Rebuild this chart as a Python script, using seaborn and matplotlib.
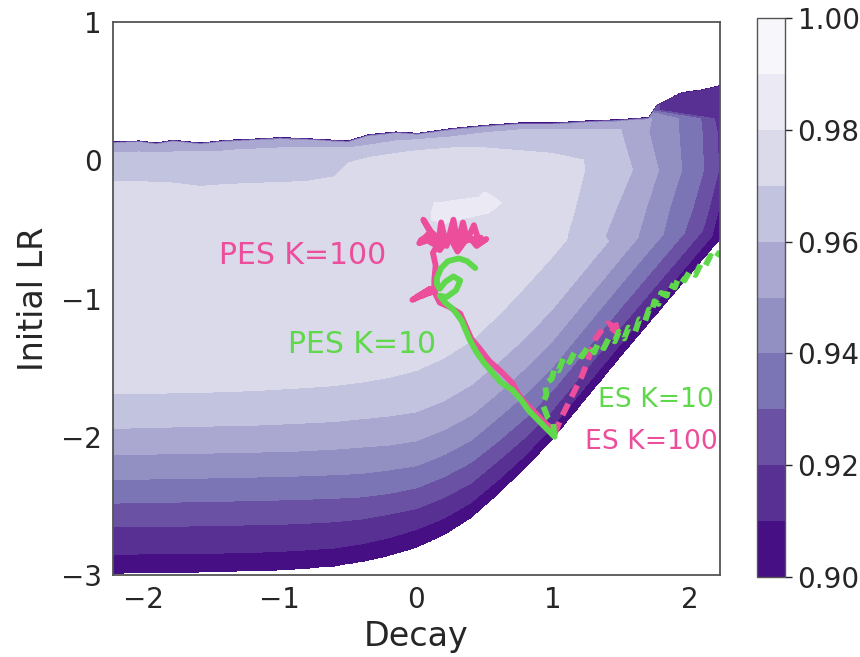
import numpy as np
import matplotlib
matplotlib.use("Agg")
import matplotlib.pyplot as plt
import seaborn as sns

# ---------------- data ----------------
levels = [0.90, 0.91, 0.92, 0.93, 0.94, 0.95, 0.96, 0.97, 0.98, 0.99, 1.00]
cbar_ticks = [0.90, 0.92, 0.94, 0.96, 0.98, 1.00]

# lower / diagonal structure: y where each level is crossed, per column x
bot_x = [-2.22, -1.6, -1.2, -0.9, -0.6, -0.4, -0.2, 0.0, 0.2, 0.4, 0.6, 0.8, 1.0, 1.2, 1.5, 1.8, 2.22]
bot_90 = [-2.99, -2.98, -2.972, -2.96, -2.935, -2.905, -2.86, -2.80, -2.71, -2.585, -2.41, -2.22, -2.01, -1.77, -1.41, -1.06, -0.57]
bot_91 = [-2.85, -2.845, -2.837, -2.825, -2.805, -2.775, -2.73, -2.67, -2.59, -2.475, -2.31, -2.13, -1.92, -1.68, -1.32, -0.97, -0.48]
bot_92 = [-2.65, -2.645, -2.637, -2.63, -2.615, -2.595, -2.56, -2.52, -2.44, -2.335, -2.17, -2.00, -1.80, -1.56, -1.20, -0.85, -0.36]
bot_93 = [-2.48, -2.47, -2.462, -2.455, -2.445, -2.435, -2.41, -2.37, -2.29, -2.185, -2.03, -1.86, -1.66, -1.42, -1.06, -0.71, -0.22]
bot_94 = [-2.31, -2.30, -2.292, -2.285, -2.275, -2.265, -2.24, -2.21, -2.13, -2.025, -1.86, -1.69, -1.49, -1.25, -0.89, -0.54, -0.05]
bot_95 = [-2.13, -2.12, -2.112, -2.105, -2.09, -2.075, -2.06, -2.03, -1.95, -1.845, -1.68, -1.50, -1.30, -1.06, -0.70, -0.35, 0.14]
bot_96 = [-1.94, -1.925, -1.917, -1.905, -1.89, -1.87, -1.85, -1.82, -1.74, -1.625, -1.46, -1.28, -1.07, -0.83, -0.47, -0.12, 0.37]
bot_97 = [-1.69, -1.68, -1.667, -1.65, -1.63, -1.605, -1.57, -1.52, -1.43, -1.305, -1.12, -0.91, -0.69, -0.45, -0.09, 0.26, 0.75]

# upper (diverging) edge: y of crossings per column x
top_x = [-2.22, -2.03, -1.90, -1.78, -1.58, -1.39, -1.25, -1.00, -0.81, -0.60, -0.50, -0.35,
         -0.15, 0.01, 0.26, 0.50, 0.75, 0.99, 1.23, 1.48, 1.70, 1.76, 1.94, 2.09, 2.22]
top_90 = [0.132, 0.140, 0.125, 0.145, 0.125, 0.145, 0.150, 0.164, 0.157, 0.145, 0.140, 0.185,
          0.205, 0.195, 0.230, 0.253, 0.270, 0.270, 0.284, 0.294, 0.310, 0.400, 0.490, 0.510, 0.540]
top_95 = [0.122, 0.128, 0.113, 0.133, 0.113, 0.133, 0.138, 0.152, 0.145, 0.133, 0.128, 0.172,
          0.192, 0.183, 0.217, 0.240, 0.256, 0.256, 0.270, 0.280, 0.296, 0.385, 0.470, 0.490, 0.520]
top_96 = [0.058, 0.060, 0.055, 0.060, 0.060, 0.070, 0.080, 0.090, 0.090, 0.090, 0.090, 0.110,
          0.140, 0.150, 0.170, 0.200, 0.220, 0.220, 0.220, 0.220, 0.240, 0.300, 0.350, 0.350, 0.380]
top_97 = [-0.157, -0.155, -0.160, -0.165, -0.190, -0.175, -0.170, -0.160, -0.155, -0.120, -0.020, 0.020,
          0.050, 0.070, 0.090, 0.090, 0.070, 0.050, 0.000, -0.050, -0.050, 0.000, 0.000, 0.000, 0.000]

# right side (near-vertical contours): x of crossings per row y
right_y = [-1.5, -0.80, -0.55, -0.35, -0.07, 0.20, 0.30, 0.36, 0.55]
right_975 = [3.00, 1.15, 1.00, 1.05, 1.10, 1.05, 1.05, 1.20, 1.30]
right_97 = [3.05, 1.25, 1.10, 1.16, 1.23, 1.20, 1.20, 1.35, 1.40]
right_96 = [3.10, 1.55, 1.38, 1.46, 1.58, 1.50, 1.50, 1.50, 1.50]
right_95 = [3.15, 1.80, 1.62, 1.68, 1.77, 1.70, 1.72, 1.60, 1.60]
right_94 = [3.20, 2.00, 1.80, 1.85, 1.94, 1.92, 1.92, 1.66, 1.65]
right_93 = [3.25, 2.20, 1.95, 2.02, 2.10, 2.09, 2.08, 1.72, 1.70]
right_92 = [3.30, 2.40, 2.08, 2.14, 2.21, 2.20, 2.18, 1.78, 1.75]
right_91 = [3.35, 2.60, 2.16, 2.21, 2.28, 2.30, 2.30, 2.35, 2.50]
right_90 = [3.40, 2.70, 2.24, 2.30, 2.35, 2.40, 2.40, 2.45, 2.60]

# small brightest patch (0.98-0.99)
patch_y = [-0.46, -0.43, -0.38, -0.31, -0.27, -0.23]
patch_left = [0.20, 0.11, 0.11, 0.13, 0.45, 0.50]
patch_right = [0.20, 0.31, 0.53, 0.62, 0.57, 0.50]

# trajectories
pes100_x = [1.01, 0.95, 0.88, 0.81, 0.75, 0.70, 0.62, 0.53, 0.46, 0.40, 0.36, 0.32, 0.24, 0.17, 0.13,
            0.08, 0.00, 0.10, -0.03, 0.06, 0.14, 0.04, 0.13,
            0.13, 0.14, 0.12, 0.15,
            0.08, 0.02, 0.10, 0.05, 0.16, 0.18, 0.22, 0.27, 0.30, 0.34, 0.37, 0.42, 0.46, 0.51,
            0.44, 0.38, 0.30, 0.24, 0.17, 0.10, 0.03, 0.12, 0.20, 0.28, 0.36, 0.47]
pes100_y = [-1.95, -1.91, -1.84, -1.77, -1.70, -1.61, -1.53, -1.45, -1.36, -1.29, -1.20, -1.11, -1.06, -1.03, -0.95,
            -0.96, -0.99, -0.93, -1.01, -0.97, -0.94, -0.98, -0.93,
            -0.87, -0.76, -0.67, -0.62,
            -0.58, -0.60, -0.52, -0.43, -0.60, -0.45, -0.62, -0.43, -0.60, -0.45, -0.58, -0.47, -0.60, -0.57,
            -0.62, -0.55, -0.66, -0.55, -0.65, -0.55, -0.58, -0.53, -0.60, -0.52, -0.58, -0.56]
pes10_x = [1.01, 0.95, 0.88, 0.82, 0.77, 0.70, 0.62, 0.55, 0.49, 0.44, 0.39, 0.36, 0.33, 0.27, 0.21,
           0.17, 0.22, 0.29, 0.32, 0.27, 0.21, 0.17, 0.15, 0.15, 0.18, 0.23, 0.31, 0.37, 0.43]
pes10_y = [-2.00, -1.94, -1.87, -1.81, -1.74, -1.66, -1.61, -1.53, -1.46, -1.39, -1.30, -1.23, -1.16, -1.08, -1.03,
           -0.98, -0.99, -0.94, -0.87, -0.84, -0.88, -0.93, -0.90, -0.85, -0.78, -0.73, -0.71, -0.73, -0.78]
es100_x = [1.01, 1.06, 1.11, 1.16, 1.21, 1.25, 1.28, 1.31, 1.36, 1.40, 1.44, 1.48, 1.50, 1.46, 1.42]
es100_y = [-1.98, -1.86, -1.76, -1.66, -1.56, -1.46, -1.36, -1.29, -1.22, -1.18, -1.20, -1.19, -1.23, -1.24, -1.21]
es10_x = [1.01, 1.00, 0.96, 0.92, 0.95, 0.94, 0.99, 1.01, 1.04, 1.08, 1.12, 1.16, 1.21, 1.26, 1.30, 1.33,
          1.37, 1.41, 1.45, 1.48, 1.52, 1.55, 1.60, 1.63, 1.67, 1.70, 1.72, 1.74, 1.77, 1.79, 1.83, 1.85,
          1.89, 1.92, 1.96, 2.00, 2.04, 2.08, 2.11, 2.15, 2.18, 2.22]
es10_y = [-2.00, -1.90, -1.86, -1.76, -1.70, -1.62, -1.58, -1.50, -1.52, -1.42, -1.46, -1.38, -1.42, -1.34,
          -1.39, -1.32, -1.36, -1.28, -1.31, -1.24, -1.29, -1.21, -1.24, -1.15, -1.17, -1.08, -1.10, -1.02,
          -1.04, -0.96, -0.98, -0.90, -0.92, -0.84, -0.87, -0.80, -0.83, -0.75, -0.77, -0.69, -0.72, -0.66]

labels = ["PES K=100", "PES K=10", "ES K=10", "ES K=100"]
label_x = [-0.835, -0.40, 1.755, 1.718]
label_y = [-0.687, -1.33, -1.736, -2.04]
label_size = [21.5, 21.5, 19.2, 19.2]

PINK = "#EC4E9C"
GREEN = "#5FD84C"
label_colors = [PINK, GREEN, GREEN, PINK]

# ---------------- build the field from the read crossings ----------------
xs = np.linspace(-2.22, 2.22, 889)
ys = np.linspace(-3.0, 1.0, 801)


def profile_field(across_pos, node_pos, node_z, fine_across, fine_along):
    P = np.asarray(node_pos, float)  # (n_nodes, n_profiles)
    Pf = np.array([np.interp(fine_across, across_pos, P[k]) for k in range(P.shape[0])])
    return np.array([np.interp(fine_along, Pf[:, j], node_z) for j in range(len(fine_across))])


b90 = np.array(bot_90)
b97 = np.array(bot_97)
bot_nodes = [b90 - 0.03, b90, bot_91, bot_92, bot_93, bot_94, bot_95, bot_96, b97, b97 + 0.8]
bot_z = [0.85, 0.90, 0.91, 0.92, 0.93, 0.94, 0.95, 0.96, 0.97, 1.00]
Zbot = profile_field(bot_x, bot_nodes, bot_z, xs, ys).T

t90 = np.array(top_90)
t97 = np.array(top_97)
top_nodes = [t97 - 0.6, t97, top_96, top_95, t90, t90 + 0.01]
top_z = [1.00, 0.97, 0.96, 0.95, 0.90, 0.85]
Ztop = profile_field(top_x, top_nodes, top_z, xs, ys).T

r90 = np.array(right_90)
right_nodes = [right_975, right_97, right_96, right_95, right_94, right_93, right_92, right_91, r90, r90 + 0.05]
right_z = [0.975, 0.97, 0.96, 0.95, 0.94, 0.93, 0.92, 0.91, 0.90, 0.85]
Zright = profile_field(right_y, right_nodes, right_z, ys, xs)

pl = np.array(patch_left)
pr = np.array(patch_right)
patch_nodes = [pl - 0.02, pl, pr, pr + 0.02]
patch_z = [0.0, 0.985, 0.985, 0.0]
Zpatch = profile_field(patch_y, patch_nodes, patch_z, ys, xs)
Zpatch[(ys < min(patch_y)) | (ys > max(patch_y)), :] = 0.0

Z = np.maximum(np.minimum(np.minimum(Zbot, Ztop), Zright), Zpatch)

# ---------------- drawing ----------------
sns.set_theme(style="white")
plt.rcParams["font.family"] = ["DejaVu Sans"]
plt.rcParams["text.color"] = "#262626"

fig = plt.figure(figsize=(8.6, 6.57), dpi=100)
ax = fig.add_axes([113 / 860, 82 / 657, 607 / 860, 553 / 657])
cax = fig.add_axes([757 / 860, 80 / 657, 28 / 860, 559 / 657])

cs = ax.contourf(xs, ys, Z, levels=levels, cmap="Purples_r")

lw = 4.2
sns.lineplot(x=pes100_x, y=pes100_y, sort=False, estimator=None, color=PINK, lw=lw, ax=ax,
             solid_joinstyle="round", solid_capstyle="round")
sns.lineplot(x=pes10_x, y=pes10_y, sort=False, estimator=None, color=GREEN, lw=lw, ax=ax,
             solid_joinstyle="round", solid_capstyle="round")
sns.lineplot(x=es100_x, y=es100_y, sort=False, estimator=None, color=PINK, lw=lw, ax=ax,
             linestyle=(0, (2.2, 1.3)))
sns.lineplot(x=es10_x, y=es10_y, sort=False, estimator=None, color=GREEN, lw=lw, ax=ax,
             linestyle=(0, (2.2, 1.3)))

for t, lx, ly, c, fs in zip(labels, label_x, label_y, label_colors, label_size):
    ax.text(lx, ly, t, color=c, fontsize=fs, ha="center", va="center")

ax.set_xlim(-2.22, 2.22)
ax.set_ylim(-3, 1)
ax.set_xticks([-2, -1, 0, 1, 2])
ax.set_yticks([-3, -2, -1, 0, 1])
ax.tick_params(labelsize=20, colors="#262626", length=0, pad=8)
ax.set_xlabel("Decay", fontsize=24, color="#262626", labelpad=4)
ax.set_ylabel("Initial LR", fontsize=24, color="#262626", labelpad=8)
for s in ax.spines.values():
    s.set_color("#555555")
    s.set_linewidth(1.3)

cb = fig.colorbar(cs, cax=cax, ticks=cbar_ticks)
cb.ax.set_yticklabels([f"{v:.2f}" for v in cbar_ticks])
cb.ax.tick_params(labelsize=20, colors="#262626", length=5, width=1, pad=4, right=True)
cb.outline.set_edgecolor("#555555")
cb.outline.set_linewidth(1.0)

fig.savefig("out.png", dpi=100)
